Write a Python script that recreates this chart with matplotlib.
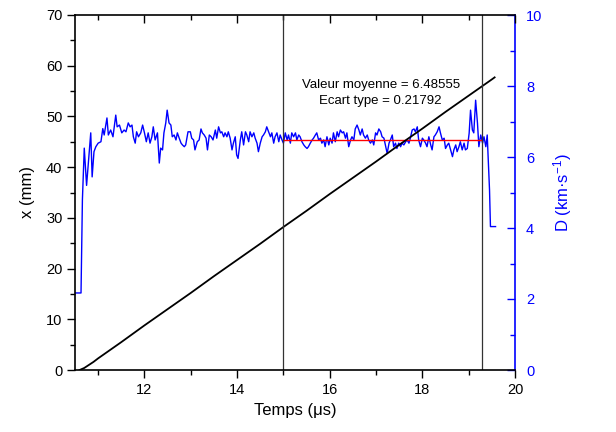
import matplotlib
matplotlib.use("Agg")
import matplotlib.pyplot as plt
from matplotlib.ticker import MultipleLocator

plt.rcParams['font.family'] = ['Liberation Sans', 'DejaVu Sans']
plt.rcParams['mathtext.fontset'] = 'custom'
plt.rcParams['mathtext.rm'] = 'Liberation Sans'
plt.rcParams['mathtext.it'] = 'Liberation Sans'

# Position x (mm) vs time (µs)
t_pos = [10.60, 10.70, 10.80, 10.90, 11.00, 11.50, 12.00, 12.50, 13.00, 13.50, 14.00,
         14.50, 15.00, 15.50, 16.00, 16.50, 17.00, 17.50, 18.00, 18.50, 19.00, 19.50, 19.56]
x_mm = [0.0, 0.4, 1.0, 1.6, 2.3, 5.5, 8.8, 12.0, 15.2, 18.5, 21.7,
        24.9, 28.2, 31.4, 34.7, 37.9, 41.1, 44.4, 47.6, 50.9, 54.1, 57.3, 57.7]

# Detonation velocity D (km/s) vs time (µs)
t_vel = [10.50, 10.63, 10.66, 10.70, 10.75, 10.84, 10.87, 10.91, 10.95, 11.00, 11.06, 11.10,
         11.13, 11.19, 11.22, 11.27, 11.32, 11.38, 11.41, 11.46, 11.51, 11.56, 11.60, 11.65,
         11.69, 11.73, 11.76, 11.80, 11.83, 11.87, 11.92, 11.96, 12.00, 12.04, 12.08, 12.12,
         12.16, 12.19, 12.23, 12.28, 12.32, 12.35, 12.39, 12.42, 12.46, 12.49, 12.53, 12.57,
         12.60, 12.64, 12.68, 12.71, 12.75, 12.79, 12.82, 12.86, 12.89, 12.94, 12.99, 13.02,
         13.06, 13.09, 13.14, 13.18, 13.22, 13.25, 13.29, 13.33, 13.36, 13.40, 13.44, 13.48,
         13.53, 13.56, 13.60, 13.64, 13.67, 13.71, 13.74, 13.78, 13.81, 13.85, 13.89, 13.92,
         13.96, 13.99, 14.02, 14.07, 14.10, 14.14, 14.18, 14.21, 14.25, 14.28, 14.32, 14.36,
         14.39, 14.43, 14.46, 14.50, 14.54, 14.57, 14.61, 14.64, 14.68, 14.72, 14.75, 14.79,
         14.82, 14.86, 14.90, 14.93, 14.97, 15.00, 15.04, 15.08, 15.11, 15.15, 15.18, 15.22,
         15.26, 15.29, 15.33, 15.36, 15.40, 15.44, 15.47, 15.51, 15.54, 15.58, 15.62, 15.65,
         15.69, 15.72, 15.76, 15.80, 15.83, 15.87, 15.90, 15.94, 15.98, 16.01, 16.05, 16.08,
         16.12, 16.16, 16.19, 16.23, 16.27, 16.30, 16.34, 16.37, 16.41, 16.45, 16.48, 16.52,
         16.55, 16.59, 16.63, 16.66, 16.70, 16.73, 16.77, 16.81, 16.84, 16.88, 16.92, 16.95,
         16.99, 17.02, 17.06, 17.10, 17.13, 17.17, 17.20, 17.24, 17.28, 17.31, 17.35, 17.38,
         17.42, 17.45, 17.49, 17.53, 17.56, 17.60, 17.64, 17.67, 17.71, 17.74, 17.78, 17.82,
         17.85, 17.89, 17.92, 17.96, 18.00, 18.03, 18.07, 18.10, 18.14, 18.18, 18.21, 18.25,
         18.28, 18.32, 18.36, 18.39, 18.43, 18.47, 18.50, 18.54, 18.57, 18.61, 18.65, 18.68,
         18.72, 18.75, 18.79, 18.82, 18.86, 18.90, 18.93, 18.97, 19.01, 19.04, 19.08, 19.11,
         19.15, 19.19, 19.22, 19.26, 19.30, 19.33, 19.37, 19.40, 19.42, 19.45, 19.47, 19.58]
d_vel = [2.17, 2.17, 4.80, 6.25, 5.20, 6.68, 5.44, 6.15, 6.29, 6.39, 6.43, 6.80,
         6.62, 7.10, 6.62, 6.76, 6.57, 7.18, 6.85, 6.90, 6.68, 6.76, 6.71, 6.96,
         6.85, 6.90, 6.57, 6.39, 6.71, 6.57, 6.68, 6.90, 6.68, 6.43, 6.68, 6.39,
         6.57, 6.85, 6.48, 6.68, 5.83, 6.25, 6.20, 6.68, 6.96, 7.32, 6.96, 6.90,
         6.57, 6.62, 6.48, 6.68, 6.53, 6.39, 6.34, 6.29, 6.34, 6.71, 6.71, 6.53,
         6.48, 6.20, 6.43, 6.48, 6.79, 6.68, 6.62, 6.53, 6.20, 6.62, 6.57, 6.48,
         6.76, 6.53, 6.85, 6.68, 6.71, 6.57, 6.68, 6.57, 6.71, 6.53, 6.20, 6.39,
         6.57, 6.06, 5.96, 6.48, 6.71, 6.34, 6.71, 6.62, 6.43, 6.71, 6.57, 6.68,
         6.53, 6.39, 6.15, 6.39, 6.57, 6.62, 6.71, 6.85, 6.71, 6.57, 6.68, 6.39,
         6.57, 6.68, 6.43, 6.62, 6.48, 6.39, 6.68, 6.48, 6.62, 6.39, 6.68, 6.57,
         6.68, 6.48, 6.62, 6.57, 6.43, 6.34, 6.29, 6.24, 6.29, 6.39, 6.48, 6.53,
         6.62, 6.68, 6.48, 6.53, 6.39, 6.48, 6.29, 6.57, 6.34, 6.53, 6.39, 6.68,
         6.43, 6.71, 6.57, 6.76, 6.68, 6.71, 6.53, 6.68, 6.29, 6.48, 6.57, 6.48,
         6.79, 6.90, 6.76, 6.62, 6.79, 6.62, 6.53, 6.62, 6.48, 6.39, 6.48, 6.34,
         6.68, 6.62, 6.79, 6.71, 6.57, 6.53, 6.34, 6.10, 6.39, 6.48, 6.62, 6.29,
         6.39, 6.24, 6.39, 6.29, 6.39, 6.34, 6.43, 6.48, 6.39, 6.53, 6.76, 6.79,
         6.71, 6.85, 6.48, 6.29, 6.53, 6.48, 6.39, 6.29, 6.57, 6.34, 6.20, 6.57,
         6.62, 6.71, 6.85, 6.68, 6.48, 6.53, 6.24, 6.34, 6.39, 6.20, 6.01, 6.20,
         6.34, 6.15, 6.29, 6.43, 6.20, 6.39, 6.20, 6.24, 6.67, 7.32, 6.76, 6.68,
         7.60, 6.95, 6.29, 6.62, 6.39, 6.57, 6.29, 6.62, 6.01, 5.07, 4.04, 4.04]

t_window = [15.0, 19.28]
mean_val = 6.48555
std_val = 0.21792

fig = plt.figure(figsize=(6.16, 4.32), dpi=100)
ax = fig.add_axes([75/616, 1-370/432, 440/616, 355/432])
ax2 = ax.twinx()
ax.set_zorder(ax2.get_zorder() + 1)
ax.patch.set_visible(False)

blue = '#0000ff'
ax2.plot(t_vel, d_vel, color=blue, lw=1.0)
ax2.hlines(mean_val, t_window[0], t_window[1], color='#ff0000', lw=1.0)

ax.plot(t_pos, x_mm, color='black', lw=1.3)
for tv in t_window:
    ax.axvline(tv, color='#333333', lw=0.9)

ax.set_xlim(10.5, 20)
ax.set_ylim(0, 70)
ax2.set_ylim(0, 10)

ax.xaxis.set_major_locator(MultipleLocator(2))
ax.xaxis.set_minor_locator(MultipleLocator(1))
ax.yaxis.set_major_locator(MultipleLocator(10))
ax.yaxis.set_minor_locator(MultipleLocator(5))
ax2.yaxis.set_major_locator(MultipleLocator(2))
ax2.yaxis.set_minor_locator(MultipleLocator(1))

ax.tick_params(axis='x', which='both', direction='out', top=True, labelsize=10.5, pad=3)
ax.tick_params(axis='y', which='both', direction='out', labelsize=10.5, pad=3)
ax.tick_params(which='major', length=6, width=1)
ax.tick_params(which='minor', length=3.5, width=1)
# top ticks point inward
for tl in ax.xaxis.get_major_ticks() + ax.xaxis.get_minor_ticks():
    tl.tick2line.set_marker(3)  # TICKDOWN
ax2.tick_params(axis='y', which='both', direction='in', colors=blue, labelsize=10.5, pad=8)
ax2.tick_params(which='major', length=6, width=1)
ax2.tick_params(which='minor', length=3.5, width=1)

for s in ['left', 'bottom', 'top']:
    ax.spines[s].set_linewidth(1.2)
ax2.spines['right'].set_color(blue)
ax2.spines['right'].set_linewidth(1.2)
ax.spines['right'].set_visible(False)
for s in ['left', 'bottom', 'top']:
    ax2.spines[s].set_visible(False)

ax.set_xlabel('Temps (\u03bcs)', fontsize=12, labelpad=5)
ax.set_ylabel('x (mm)', fontsize=12, labelpad=8)
ax2.set_ylabel('D (km\u00b7s$^{-1}$)', fontsize=12, color=blue, labelpad=6)

ax.text(17.1, 56.2, 'Valeur moyenne = %.5f' % mean_val, ha='center', va='center', fontsize=9.5)
ax.text(17.1, 53.0, 'Ecart type = %.5f' % std_val, ha='center', va='center', fontsize=9.5)

fig.savefig('out.png', dpi=100)
